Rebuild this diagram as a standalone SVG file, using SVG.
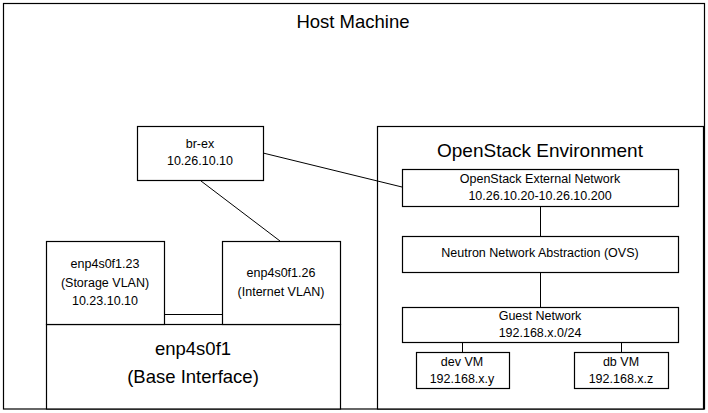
<svg xmlns="http://www.w3.org/2000/svg" width="708" height="413" viewBox="0 0 708 413">
<style>
.b{fill:#fff;stroke:#000;stroke-width:1.2}
.c{fill:none;stroke:#000;stroke-width:1}
text{font-family:"Liberation Sans",Arial,sans-serif;fill:#000;text-anchor:middle}
.s{font-size:12.5px}
.l{font-size:18.5px}
</style>
<rect width="708" height="413" fill="#fff"/>
<g id="host"><rect class="b" x="3.5" y="3.5" width="701" height="405.5"/><text class="l" x="353" y="28">Host Machine</text></g>
<g id="openstack"><rect class="b" x="377.5" y="126.5" width="326" height="282.5"/><text class="l" x="540" y="157" style="font-size:19px">OpenStack Environment</text></g>
<g id="connectors">
<line class="c" x1="263" y1="153" x2="402" y2="187"/>
<line class="c" x1="201" y1="181" x2="280" y2="241"/>
<line class="c" x1="164" y1="314.5" x2="222" y2="314.5"/>
<line class="c" x1="540.5" y1="206" x2="540.5" y2="236"/>
<line class="c" x1="540.5" y1="272" x2="540.5" y2="307"/>
<line class="c" x1="462.5" y1="342" x2="462.5" y2="352"/>
<line class="c" x1="621.5" y1="342" x2="621.5" y2="352"/>
</g>
<g id="brex"><rect class="b" x="137.5" y="126.5" width="126" height="54"/><text class="s" x="200" y="148">br-ex</text><text class="s" x="200" y="165">10.26.10.10</text></g>
<g id="base"><rect class="b" x="46.5" y="324.5" width="294" height="84.5"/><text class="l" x="193" y="355">enp4s0f1</text><text class="l" x="193" y="383">(Base Interface)</text></g>
<g id="vlan23"><rect class="b" x="46.5" y="241.5" width="118" height="83"/><text class="s" x="105" y="268">enp4s0f1.23</text><text class="s" x="105" y="287">(Storage VLAN)</text><text class="s" x="105" y="305">10.23.10.10</text></g>
<g id="vlan26"><rect class="b" x="222.5" y="241.5" width="118" height="83"/><text class="s" x="281" y="277">enp4s0f1.26</text><text class="s" x="281" y="296">(Internet VLAN)</text></g>
<g id="extnet"><rect class="b" x="402.5" y="169.5" width="276" height="37"/><text class="s" x="540" y="183">OpenStack External Network</text><text class="s" x="540" y="200">10.26.10.20-10.26.10.200</text></g>
<g id="neutron"><rect class="b" x="402.5" y="236.5" width="276" height="36"/><text class="s" x="540" y="257">Neutron Network Abstraction (OVS)</text></g>
<g id="guest"><rect class="b" x="402.5" y="307.5" width="276" height="35"/><text class="s" x="540" y="320">Guest Network</text><text class="s" x="540" y="337">192.168.x.0/24</text></g>
<g id="devvm"><rect class="b" x="416.5" y="352.5" width="93" height="36"/><text class="s" x="462" y="366">dev VM</text><text class="s" x="462" y="383">192.168.x.y</text></g>
<g id="dbvm"><rect class="b" x="574.5" y="352.5" width="94" height="36"/><text class="s" x="621" y="366">db VM</text><text class="s" x="621" y="383">192.168.x.z</text></g>
</svg>
